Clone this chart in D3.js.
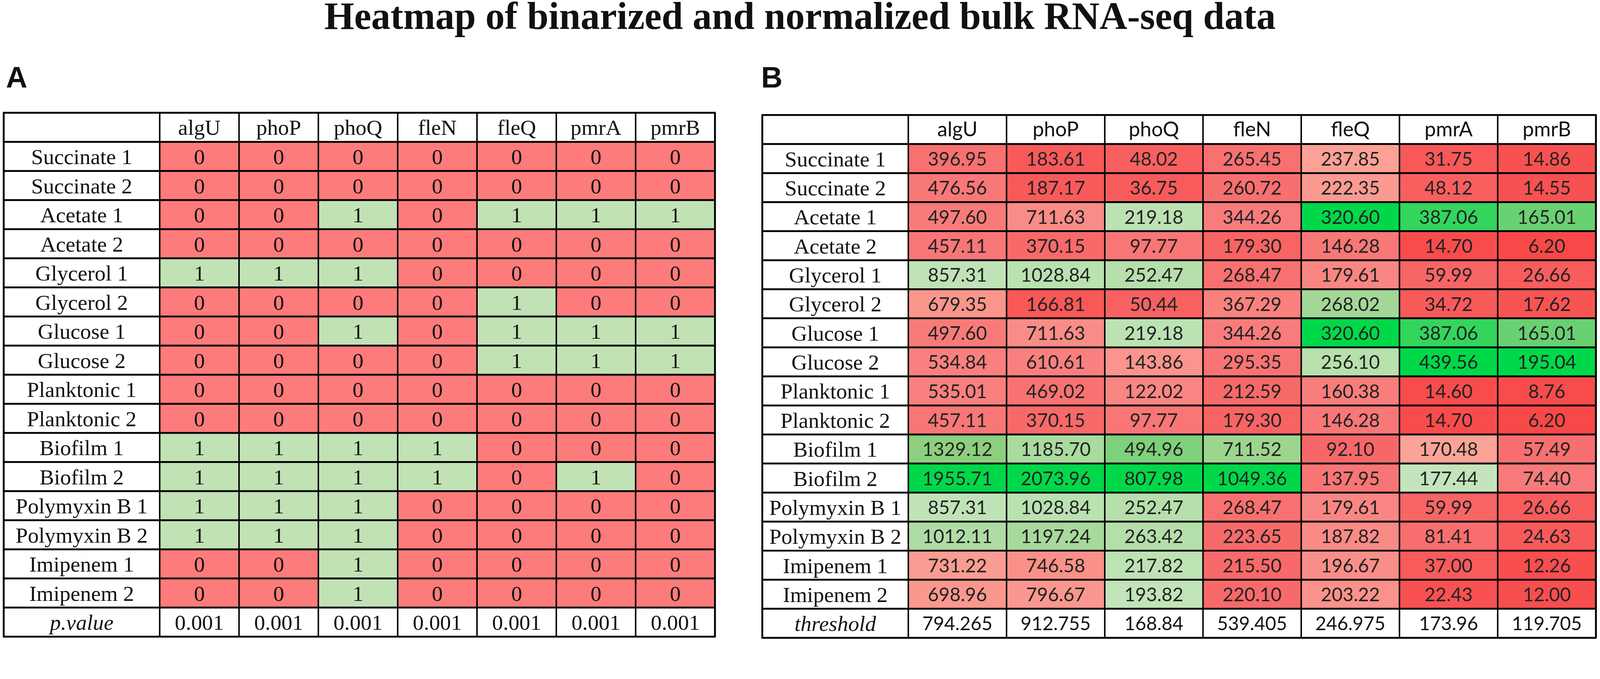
<!DOCTYPE html>
<html lang="en">
<head>
  <meta charset="UTF-8">
  <title>Heatmap of binarized and normalized bulk RNA-seq data</title>
  <script src="https://d3js.org/d3.v7.min.js"></script>
  <style>
    html, body {
      margin: 0;
      padding: 0;
      overflow: hidden;
      background: #ffffff;
    }
    #chart svg {
      display: block;
    }
    svg text {
      fill: #111;
    }
  </style>
</head>
<body>
  <div id="chart"></div>
  <script>
    // genes (columns) and samples (rows)
    const genes = ["algU", "phoP", "phoQ", "fleN", "fleQ", "pmrA", "pmrB"];
    const conditions = [
      "Succinate 1", "Succinate 2", "Acetate 1", "Acetate 2",
      "Glycerol 1", "Glycerol 2", "Glucose 1", "Glucose 2",
      "Planktonic 1", "Planktonic 2", "Biofilm 1", "Biofilm 2",
      "Polymyxin B 1", "Polymyxin B 2", "Imipenem 1", "Imipenem 2"
    ];

    // panel A: binarized expression
    const binarized = [
      [0, 0, 0, 0, 0, 0, 0],
      [0, 0, 0, 0, 0, 0, 0],
      [0, 0, 1, 0, 1, 1, 1],
      [0, 0, 0, 0, 0, 0, 0],
      [1, 1, 1, 0, 0, 0, 0],
      [0, 0, 0, 0, 1, 0, 0],
      [0, 0, 1, 0, 1, 1, 1],
      [0, 0, 0, 0, 1, 1, 1],
      [0, 0, 0, 0, 0, 0, 0],
      [0, 0, 0, 0, 0, 0, 0],
      [1, 1, 1, 1, 0, 0, 0],
      [1, 1, 1, 1, 0, 1, 0],
      [1, 1, 1, 0, 0, 0, 0],
      [1, 1, 1, 0, 0, 0, 0],
      [0, 0, 1, 0, 0, 0, 0],
      [0, 0, 1, 0, 0, 0, 0]
    ];
    const pValues = ["0.001", "0.001", "0.001", "0.001", "0.001", "0.001", "0.001"];

    // panel B: normalized expression
    const normalized = [
      [396.95, 183.61, 48.02, 265.45, 237.85, 31.75, 14.86],
      [476.56, 187.17, 36.75, 260.72, 222.35, 48.12, 14.55],
      [497.60, 711.63, 219.18, 344.26, 320.60, 387.06, 165.01],
      [457.11, 370.15, 97.77, 179.30, 146.28, 14.70, 6.20],
      [857.31, 1028.84, 252.47, 268.47, 179.61, 59.99, 26.66],
      [679.35, 166.81, 50.44, 367.29, 268.02, 34.72, 17.62],
      [497.60, 711.63, 219.18, 344.26, 320.60, 387.06, 165.01],
      [534.84, 610.61, 143.86, 295.35, 256.10, 439.56, 195.04],
      [535.01, 469.02, 122.02, 212.59, 160.38, 14.60, 8.76],
      [457.11, 370.15, 97.77, 179.30, 146.28, 14.70, 6.20],
      [1329.12, 1185.70, 494.96, 711.52, 92.10, 170.48, 57.49],
      [1955.71, 2073.96, 807.98, 1049.36, 137.95, 177.44, 74.40],
      [857.31, 1028.84, 252.47, 268.47, 179.61, 59.99, 26.66],
      [1012.11, 1197.24, 263.42, 223.65, 187.82, 81.41, 24.63],
      [731.22, 746.58, 217.82, 215.50, 196.67, 37.00, 12.26],
      [698.96, 796.67, 193.82, 220.10, 203.22, 22.43, 12.00]
    ];
    const thresholds = [794.265, 912.755, 168.84, 539.405, 246.975, 173.96, 119.705];

    const W = 4328, H = 1738;
    const serif = "'Liberation Serif', 'Times New Roman', serif";
    const sans = "Lato, 'Open Sans', sans-serif";

    // fit the drawing to whatever the window width turns out to be
    const svg = d3.select("#chart")
      .append("svg")
      .attr("viewBox", `0 0 ${W} ${H}`)
      .attr("preserveAspectRatio", "xMinYMin meet")
      .style("width", "100vw")
      .style("height", "auto");

    // title
    svg.append("text")
      .attr("x", 2164)
      .attr("y", 78)
      .attr("text-anchor", "middle")
      .style("font-family", serif)
      .style("font-weight", "bold")
      .style("font-size", "104px")
      .text("Heatmap of binarized and normalized bulk RNA-seq data");

    // panel letters
    [["A", 16], ["B", 2059]].forEach(([t, x]) => {
      svg.append("text")
        .attr("x", x)
        .attr("y", 237)
        .style("font-family", "'Liberation Sans', Arial, sans-serif")
        .style("font-weight", "bold")
        .style("font-size", "80px")
        .text(t);
    });

    const rowKeys = ["header", ...conditions, "footer"];

    function drawTable(opt) {
      const g = svg.append("g");

      const x = d3.scaleBand()
        .domain(genes)
        .range([opt.labelRight, opt.right]);

      const y = d3.scaleBand()
        .domain(rowKeys)
        .range([opt.top, opt.bottom]);

      const rh = y.bandwidth();

      // coloured cells
      conditions.forEach((c, i) => {
        genes.forEach((gene, j) => {
          g.append("rect")
            .attr("x", x(gene))
            .attr("y", y(c))
            .attr("width", x.bandwidth())
            .attr("height", rh)
            .attr("fill", opt.color(opt.values[i][j], j));
        });
      });

      // header texts
      g.selectAll(".head")
        .data(genes)
        .enter()
        .append("text")
        .attr("x", d => x(d) + x.bandwidth() / 2)
        .attr("y", y("header") + rh / 2 + opt.headOffset)
        .attr("text-anchor", "middle")
        .style("font-family", opt.headFont)
        .style("font-size", opt.headSize + "px")
        .text(d => d);

      // row labels
      g.selectAll(".rowlab")
        .data(conditions)
        .enter()
        .append("text")
        .attr("x", (opt.left + opt.labelRight) / 2)
        .attr("y", d => y(d) + rh / 2 + 21)
        .attr("text-anchor", "middle")
        .style("font-family", serif)
        .style("font-size", "59px")
        .text(d => d);

      // cell values
      conditions.forEach((c, i) => {
        genes.forEach((gene, j) => {
          g.append("text")
            .attr("x", x(gene) + x.bandwidth() / 2)
            .attr("y", y(c) + rh / 2 + opt.cellOffset)
            .attr("text-anchor", "middle")
            .style("font-family", opt.cellFont)
            .style("font-size", opt.cellSize + "px")
            .style("fill", opt.cellFill)
            .text(opt.format(opt.values[i][j]));
        });
      });

      // footer row
      g.append("text")
        .attr("x", (opt.left + opt.labelRight) / 2)
        .attr("y", y("footer") + rh / 2 + 21)
        .attr("text-anchor", "middle")
        .style("font-family", serif)
        .style("font-style", "italic")
        .style("font-size", "59px")
        .text(opt.footLabel);

      g.selectAll(".foot")
        .data(opt.footer)
        .enter()
        .append("text")
        .attr("x", (d, j) => x(genes[j]) + x.bandwidth() / 2)
        .attr("y", y("footer") + rh / 2 + opt.cellOffset)
        .attr("text-anchor", "middle")
        .style("font-family", opt.cellFont)
        .style("font-size", opt.cellSize + "px")
        .text(d => d);

      // grid lines
      const hPos = rowKeys.map(k => y(k)).concat([opt.bottom]);
      g.selectAll(".hline")
        .data(hPos)
        .enter()
        .append("line")
        .attr("x1", opt.left - 2)
        .attr("x2", opt.right + 2)
        .attr("y1", d => d)
        .attr("y2", d => d)
        .attr("stroke", "#000")
        .attr("stroke-width", 5);

      const vPos = [opt.left, opt.labelRight, ...genes.slice(1).map(d => x(d)), opt.right];
      g.selectAll(".vline")
        .data(vPos)
        .enter()
        .append("line")
        .attr("x1", d => d)
        .attr("x2", d => d)
        .attr("y1", opt.top)
        .attr("y2", opt.bottom)
        .attr("stroke", "#000")
        .attr("stroke-width", (d, i) => (i === 0 || i === vPos.length - 1) ? 5 : 4);
    }

    // A: 0 -> red, 1 -> green
    const binColor = d3.scaleOrdinal().domain([0, 1]).range(["#fe7b7b", "#c1e2b5"]);

    drawTable({
      left: 10, labelRight: 432, right: 1934, top: 305, bottom: 1722,
      values: binarized,
      color: v => binColor(v),
      format: v => String(v),
      footer: pValues,
      footLabel: "p.value",
      headFont: serif, headSize: 59, headOffset: 20,
      cellFont: serif, cellSize: 59, cellOffset: 21, cellFill: "#111"
    });

    // B: per-gene diverging colour around its threshold
    const colMax = genes.map((g, j) => d3.max(normalized, r => r[j]));
    const lowScales = thresholds.map(t => d3.scaleLinear()
      .domain([0, 0.2 * t, 0.6 * t, t])
      .range(["#f84242", "#f85a5a", "#f87878", "#fba598"])
      .clamp(true));
    const highScales = thresholds.map((t, j) => d3.scaleLinear()
      .domain([t, t + 0.45 * (colMax[j] - t), colMax[j]])
      .range(["#c6e6be", "#8fcf80", "#00d84a"])
      .clamp(true));

    drawTable({
      left: 2062, labelRight: 2457, right: 4317, top: 311, bottom: 1725,
      values: normalized,
      color: (v, j) => v >= thresholds[j] ? highScales[j](v) : lowScales[j](v),
      format: d3.format(".2f"),
      footer: thresholds.map(String),
      footLabel: "threshold",
      headFont: sans, headSize: 55, headOffset: 18,
      cellFont: sans, cellSize: 51, cellOffset: 19, cellFill: "#222"
    });
  </script>
</body>
</html>
